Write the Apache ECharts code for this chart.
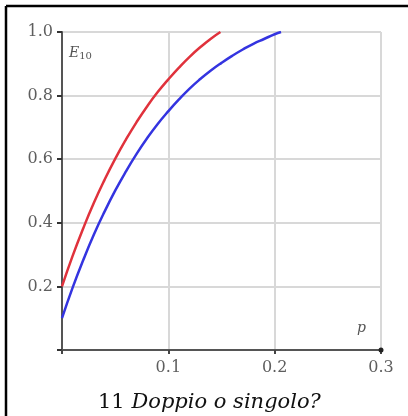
<!DOCTYPE html>
<html>
<head>
<meta charset="utf-8">
<script src="https://cdn.jsdelivr.net/npm/echarts@6/dist/echarts.min.js"></script>
<style>
html,body{margin:0;padding:0;background:#fff;}
#c{width:408px;height:416px;}
</style>
</head>
<body>
<div id="c"></div>
<script>
// Data
var pValues = [0, 0.01, 0.02, 0.03, 0.04, 0.05, 0.06, 0.07, 0.08, 0.09, 0.10, 0.11, 0.12, 0.13, 0.14, 0.149];
var redValues = [0.2, 0.296, 0.383, 0.463, 0.535, 0.601, 0.661, 0.716, 0.766, 0.811, 0.851, 0.888, 0.922, 0.952, 0.979, 1.0];
var pValuesBlue = [0, 0.01, 0.02, 0.03, 0.04, 0.05, 0.06, 0.07, 0.08, 0.09, 0.10, 0.11, 0.12, 0.13, 0.14, 0.15, 0.16, 0.17, 0.18, 0.19, 0.20, 0.206];
var blueValues = [0.1, 0.196, 0.283, 0.363, 0.435, 0.501, 0.561, 0.616, 0.666, 0.711, 0.751, 0.788, 0.822, 0.852, 0.879, 0.903, 0.925, 0.945, 0.963, 0.978, 0.993, 1.0];
var xTickLabels = ['0.1', '0.2', '0.3'];
var yTickLabels = ['0.2', '0.4', '0.6', '0.8', '1.0'];
var yAxisName = 'E';
var yAxisSub = '10';
var xAxisName = 'p';
var captionNum = '11';
var captionText = 'Doppio o singolo?';

function pairs(xs, ys) { return xs.map(function (x, i) { return [x, ys[i]]; }); }

var chart = echarts.init(document.getElementById('c'), null, { renderer: 'canvas' });
var serif = 'DejaVu Serif';
chart.setOption({
  animation: false,
  backgroundColor: '#fff',
  grid: { left: 62, right: 27, top: 32, bottom: 66 },
  xAxis: {
    type: 'value', min: 0, max: 0.3, interval: 0.1,
    axisLine: { show: true, lineStyle: { color: '#555', width: 2 } },
    axisTick: { show: true, length: 4, lineStyle: { color: '#444', width: 2 } },
    axisLabel: {
      margin: 10, color: '#5e5e5e', fontFamily: serif, fontSize: 16,
      formatter: function (v) { var s = v.toFixed(1); return xTickLabels.indexOf(s) >= 0 ? s : ''; }
    },
    splitLine: { show: true, lineStyle: { color: '#d8d8d8', width: 2 } }
  },
  yAxis: {
    type: 'value', min: 0, max: 1.0, interval: 0.2,
    axisLine: { show: true, lineStyle: { color: '#555', width: 2 } },
    axisTick: { show: true, length: 5, lineStyle: { color: '#333', width: 2 } },
    axisLabel: {
      margin: 9, color: '#5e5e5e', fontFamily: serif, fontSize: 16,
      formatter: function (v) { var s = v.toFixed(1); return yTickLabels.indexOf(s) >= 0 ? s : ''; }
    },
    splitLine: { show: true, lineStyle: { color: '#d8d8d8', width: 2 } }
  },
  series: [
    { type: 'line', data: pairs(pValues, redValues), smooth: true, showSymbol: false,
      lineStyle: { color: '#e0323c', width: 2.5 }, z: 3 },
    { type: 'line', data: pairs(pValuesBlue, blueValues), smooth: true, showSymbol: false,
      lineStyle: { color: '#3434e0', width: 2.5 }, z: 3 }
  ],
  graphic: [
    { type: 'line', shape: { x1: 6, y1: 6, x2: 408, y2: 6 }, style: { stroke: '#000', lineWidth: 2.5 } },
    { type: 'line', shape: { x1: 6, y1: 6, x2: 6, y2: 416 }, style: { stroke: '#000', lineWidth: 2.5 } },
    { type: 'circle', shape: { cx: 381, cy: 350, r: 2.5 }, style: { fill: '#222' }, z: 10 },
    { type: 'text', left: 69, top: 46, z: 10,
      style: { text: '{e|' + yAxisName + '}{s|' + yAxisSub + '}',
        rich: { e: { fontFamily: serif, fontStyle: 'italic', fontSize: 14, fill: '#555' },
                s: { fontFamily: serif, fontSize: 10, fill: '#555', padding: [6, 0, 0, 0] } } } },
    { type: 'text', left: 357, top: 321, z: 10,
      style: { text: xAxisName, fontFamily: serif, fontStyle: 'italic', fontSize: 14, fill: '#555' } },
    { type: 'text', left: 98, top: 392, z: 10,
      style: { text: '{n|' + captionNum + ' }{i|' + captionText + '}',
        rich: { n: { fontFamily: serif, fontSize: 21, fill: '#111' },
                i: { fontFamily: serif, fontStyle: 'italic', fontSize: 21, fill: '#111' } } } }
  ]
});
</script>
</body>
</html>
